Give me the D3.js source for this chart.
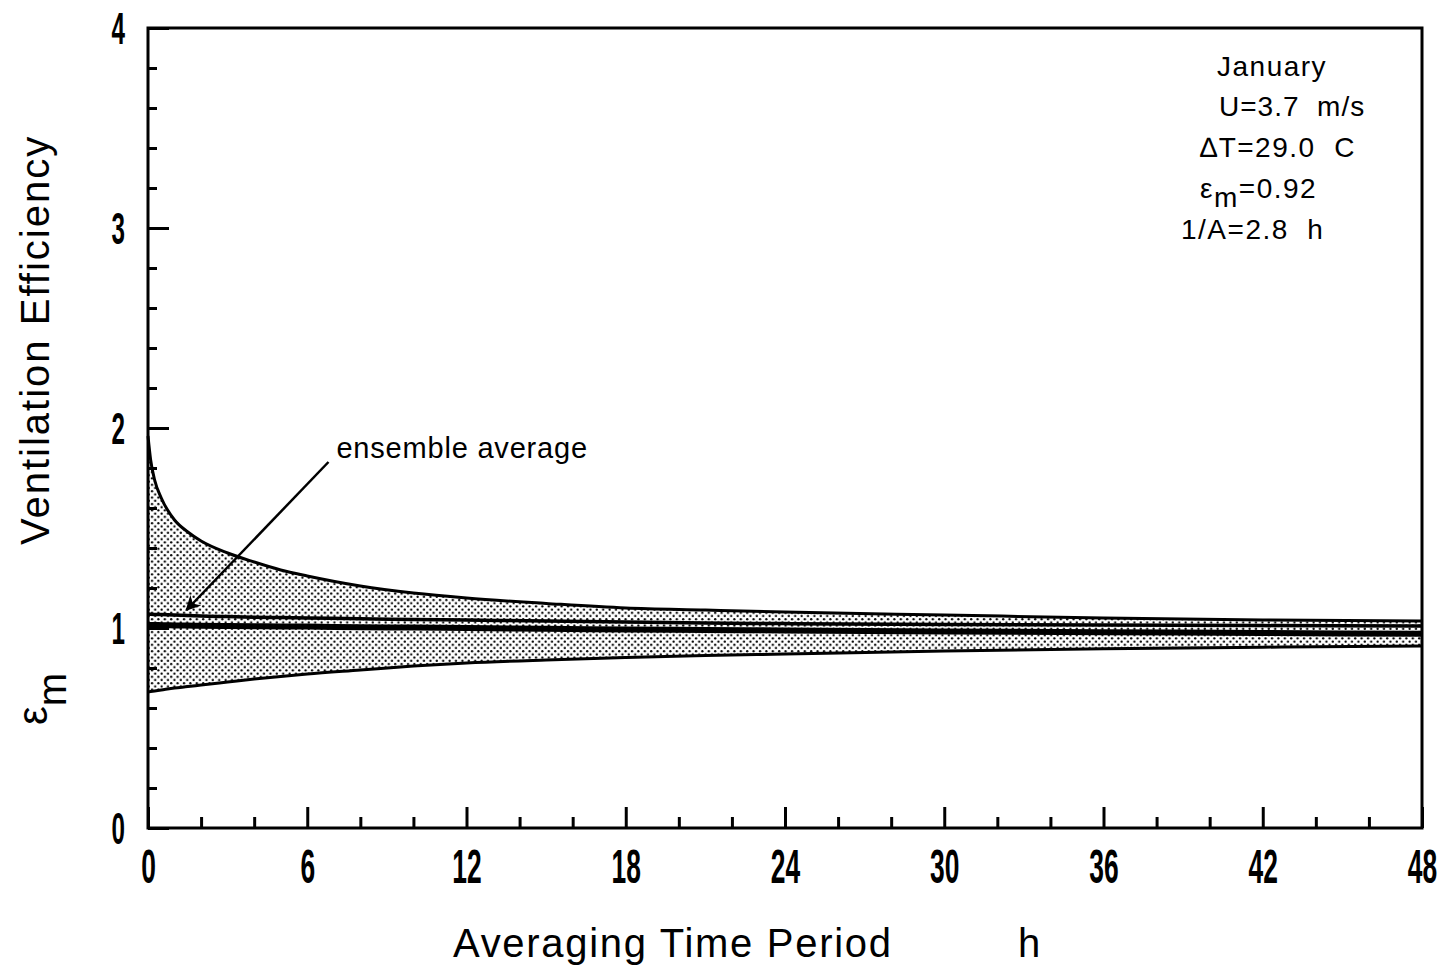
<!DOCTYPE html>
<html>
<head>
<meta charset="utf-8">
<script src="https://cdn.jsdelivr.net/npm/d3@7"></script>
<style>
  html, body { margin: 0; padding: 0; background: #fff; }
  svg { display: block; }
  text { font-family: "Liberation Sans", Arial, Helvetica, sans-serif; fill: #000; white-space: pre; }
</style>
</head>
<body>
<svg id="chart" width="1445" height="968"></svg>
<script>
// ---- data ----
const hours    = [0, 0.1, 0.25, 0.5, 1, 1.5, 2, 3, 4, 5, 6, 8, 10, 12, 15, 18, 21, 24, 30, 36, 42, 48];
const upperBound = [1.96, 1.84, 1.74, 1.65, 1.54, 1.48, 1.435, 1.375, 1.33, 1.29, 1.26, 1.21, 1.175, 1.15, 1.123, 1.1, 1.09, 1.08, 1.065, 1.05, 1.04, 1.035];
const lowerBound = [0.68, 0.682, 0.685, 0.69, 0.70, 0.707, 0.715, 0.73, 0.745, 0.758, 0.77, 0.79, 0.81, 0.825, 0.84, 0.852, 0.862, 0.87, 0.885, 0.896, 0.904, 0.91];
const ensembleUpper = [1.07, 1.069, 1.068, 1.067, 1.065, 1.063, 1.06, 1.057, 1.054, 1.052, 1.05, 1.046, 1.043, 1.04, 1.035, 1.03, 1.025, 1.022, 1.018, 1.015, 1.012, 1.01];
const ensembleMean  = [1.015, 1.015, 1.015, 1.014, 1.013, 1.012, 1.011, 1.01, 1.009, 1.008, 1.007, 1.004, 1.002, 1.0, 0.996, 0.993, 0.99, 0.988, 0.983, 0.979, 0.975, 0.971];
const xMajorTicks = [0, 6, 12, 18, 24, 30, 36, 42, 48];
const xTickLabels = ["0", "6", "12", "18", "24", "30", "36", "42", "48"];
const xMinorTicks = [2, 4, 8, 10, 14, 16, 20, 22, 26, 28, 32, 34, 38, 40, 44, 46];
const yMajorTicks = [0, 1, 2, 3, 4];
const yTickLabels = ["0", "1", "2", "3", "4"];
const yMinorTicks = [0.2, 0.4, 0.6, 0.8, 1.2, 1.4, 1.6, 1.8, 2.2, 2.4, 2.6, 2.8, 3.2, 3.4, 3.6, 3.8];
const infoLines = ["January", "U=3.7  m/s", "\u2206T=29.0  C", "=0.92", "1/A=2.8  h"];

// ---- layout ----
const svg = d3.select("#chart");
const L = 148, R = 1422, T = 28, B = 828;
const x = d3.scaleLinear().domain([0, 48]).range([L, R]);
const y = d3.scaleLinear().domain([0, 4]).range([B, T]);

// stipple pattern
const defs = svg.append("defs");
const pat = defs.append("pattern").attr("id", "dots").attr("patternUnits", "userSpaceOnUse")
  .attr("width", 6.4).attr("height", 6.4);
pat.append("rect").attr("width", 6.4).attr("height", 6.4).attr("fill", "#fff");
pat.append("circle").attr("cx", 1.6).attr("cy", 1.6).attr("r", 1.15).attr("fill", "#000");
pat.append("circle").attr("cx", 4.8).attr("cy", 4.8).attr("r", 1.15).attr("fill", "#000");

defs.append("marker").attr("id", "arrow").attr("viewBox", "0 0 10 10")
  .attr("refX", 9).attr("refY", 5).attr("markerWidth", 7).attr("markerHeight", 6)
  .attr("markerUnits", "strokeWidth").attr("orient", "auto")
  .append("path").attr("d", "M0,0 L10,5 L0,10 L3,5 Z").attr("fill", "#000");

const pts = hours.map((h, i) => ({h, up: upperBound[i], lo: lowerBound[i], a: ensembleUpper[i], m: ensembleMean[i]}));

const area = d3.area().x(d => x(d.h)).y0(d => y(d.lo)).y1(d => y(d.up)).curve(d3.curveMonotoneX);
svg.append("path").datum(pts).attr("d", area).attr("fill", "url(#dots)");

const mkLine = key => d3.line().x(d => x(d.h)).y(d => y(d[key])).curve(d3.curveMonotoneX);
svg.append("path").datum(pts).attr("d", mkLine("up")).attr("fill", "none").attr("stroke", "#000").attr("stroke-width", 3);
svg.append("path").datum(pts).attr("d", mkLine("lo")).attr("fill", "none").attr("stroke", "#000").attr("stroke-width", 3);
svg.append("path").datum(pts).attr("d", mkLine("a")).attr("fill", "none").attr("stroke", "#000").attr("stroke-width", 3.5);
svg.append("path").datum(pts).attr("d", mkLine("m")).attr("fill", "none").attr("stroke", "#000").attr("stroke-width", 6);

// axes
const sx = 0.55;
const xAxis = svg.append("g").attr("transform", `translate(0,${B})`)
  .call(d3.axisBottom(x).tickValues(xMajorTicks).tickFormat((d, i) => xTickLabels[i]).tickSizeInner(-21).tickSizeOuter(0).tickPadding(20));
xAxis.select(".domain").remove();
xAxis.selectAll("line").attr("stroke", "#000").attr("stroke-width", 3);
xAxis.selectAll("text").attr("font-size", 48).attr("font-weight", "bold").attr("dy", "0.72em")
  .attr("transform", `scale(${sx},1)`).style("font-family", "'Liberation Sans', Arial, sans-serif");

const xMinor = svg.append("g").attr("transform", `translate(0,${B})`)
  .call(d3.axisBottom(x).tickValues(xMinorTicks).tickFormat("").tickSizeInner(-11).tickSizeOuter(0));
xMinor.select(".domain").remove();
xMinor.selectAll("line").attr("stroke", "#000").attr("stroke-width", 3);

const yAxis = svg.append("g").attr("transform", `translate(${L},0)`)
  .call(d3.axisLeft(y).tickValues(yMajorTicks).tickFormat((d, i) => yTickLabels[i]).tickSizeInner(-21).tickSizeOuter(0).tickPadding(23));
yAxis.select(".domain").remove();
yAxis.selectAll("line").attr("stroke", "#000").attr("stroke-width", 3);
yAxis.selectAll("text").attr("font-size", 44).attr("font-weight", "bold")
  .attr("x", -23 / sx).attr("dy", "0.36em")
  .attr("transform", `scale(${sx},1)`).style("font-family", "'Liberation Sans', Arial, sans-serif");

const yMinor = svg.append("g").attr("transform", `translate(${L},0)`)
  .call(d3.axisLeft(y).tickValues(yMinorTicks).tickFormat("").tickSizeInner(-9).tickSizeOuter(0));
yMinor.select(".domain").remove();
yMinor.selectAll("line").attr("stroke", "#000").attr("stroke-width", 3);

// frame
svg.append("rect").attr("x", L).attr("y", T).attr("width", R - L).attr("height", B - T)
  .attr("fill", "none").attr("stroke", "#000").attr("stroke-width", 3);

// axis titles
svg.append("text").attr("x", 453).attr("y", 957).attr("font-size", 40).attr("letter-spacing", 1.7)
  .text("Averaging Time Period");
svg.append("text").attr("x", 1018).attr("y", 957).attr("font-size", 40).text("h");

svg.append("text").attr("transform", "translate(49,545) rotate(-90)").attr("font-size", 40)
  .attr("letter-spacing", 2).text("Ventilation Efficiency");
const em = svg.append("text").attr("transform", "translate(47,725) rotate(-90)").attr("font-size", 42);
em.append("tspan").text("\u03B5");
em.append("tspan").attr("dy", 19).attr("font-size", 40).text("m");

// annotation
svg.append("text").attr("x", x(7.1)).attr("y", y(1.85)).attr("font-size", 29).attr("letter-spacing", 0.8)
  .text("ensemble average");
svg.append("line").attr("x1", x(6.8)).attr("y1", y(1.83)).attr("x2", x(1.45)).attr("y2", y(1.09))
  .attr("stroke", "#000").attr("stroke-width", 2.5).attr("marker-end", "url(#arrow)");

// info box
const info = svg.append("g").attr("font-size", 28).attr("letter-spacing", 1.5);
info.append("text").attr("x", 1217).attr("y", 76).text(infoLines[0]);
info.append("text").attr("x", 1219).attr("y", 116).attr("letter-spacing", 1.0).text(infoLines[1]);
info.append("text").attr("x", 1200).attr("y", 157).text(infoLines[2]);
const e = info.append("text").attr("x", 1200).attr("y", 198);
e.append("tspan").text("\u03B5");
e.append("tspan").attr("dy", 9).text("m");
e.append("tspan").attr("dy", -9).text(infoLines[3]);
info.append("text").attr("x", 1181).attr("y", 239).text(infoLines[4]);
</script>
</body>
</html>
